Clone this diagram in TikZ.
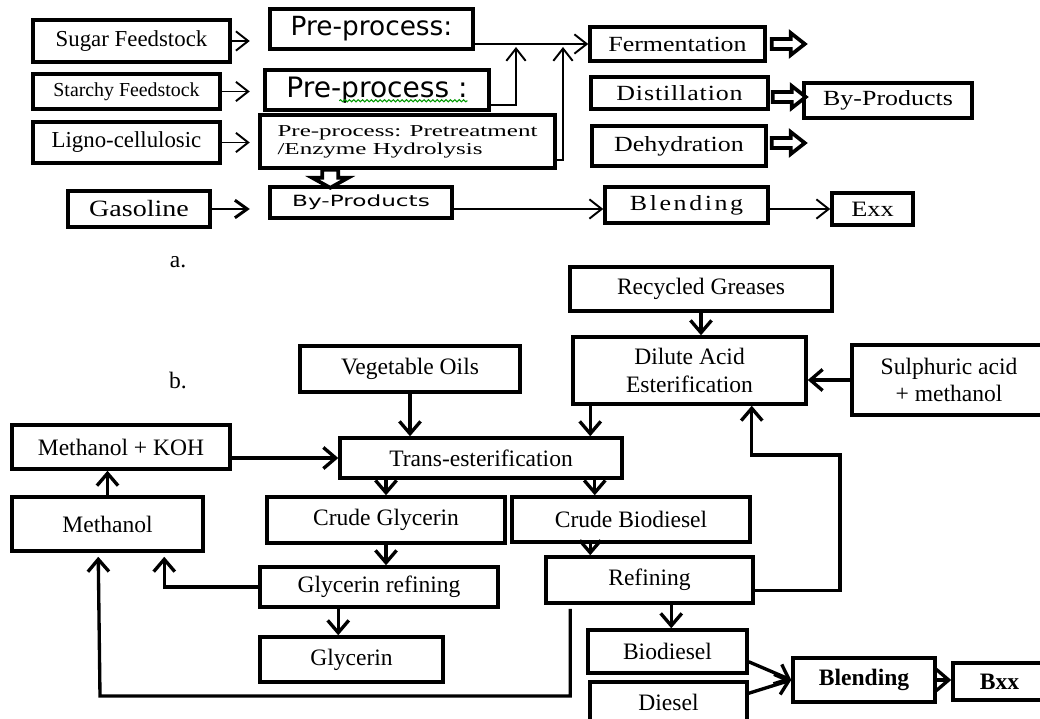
\documentclass[tikz,border=0pt]{standalone}
\usepackage{fontspec}
\setmainfont{Liberation Serif}
\newfontfamily\presans{DejaVu Sans}
\newfontfamily\widesans[FakeStretch=1.5]{DejaVu Sans}
\newfontfamily\wideserif[FakeStretch=1.2]{Liberation Serif}
\newfontfamily\vwideserif[FakeStretch=1.5]{Liberation Serif}
\newfontfamily\spacedserif[FakeStretch=1.2,LetterSpace=4]{Liberation Serif}
\newfontfamily\xspacedserif[FakeStretch=1.2,LetterSpace=12]{Liberation Serif}
\usetikzlibrary{arrows.meta, calc, decorations.pathmorphing}
\tikzset{
    box/.style={draw, line width=2pt, inner sep=1pt, align=center},
    boxb/.style={box, font=\fontsize{13.4}{15.5}\selectfont},
    wh/.style 2 args={minimum width=#1*0.02cm, minimum height=#2*0.02cm},
    arra/.style={line width=1.1pt, -{Straight Barb[length=7pt,width=11pt]}},
    arrg/.style={line width=1.7pt, -{Straight Barb[length=7pt,width=10pt]}},
    arrb/.style={line width=1.9pt, -{Straight Barb[length=7pt,width=12pt]}},
    spell/.style={draw=green!60!black, line width=0.6pt, decorate,
        decoration={snake, amplitude=0.6pt, segment length=2.5pt}},
    pics/fatarr/.style args={#1/#2/#3/#4}{code={
        \draw[line width=2.1pt, fill=white] (0,-#3) -- (#2,-#3) -- (#2,-#4) -- (#1,0)
            -- (#2,#4) -- (#2,#3) -- (0,#3) -- cycle;
    }}
}
\begin{document}
\begin{tikzpicture}[x=0.02cm, y=-0.02cm]
    \useasboundingbox (0,0) rectangle (1040,719);
    % a.
    \node[box, wh={197}{42}, font=\fontsize{13}{15}\selectfont] (sugar) at (131.5,41) {Sugar Feedstock};
    \node[box, wh={187}{35}, font=\fontsize{11.3}{13}\selectfont] (starch) at (126.5,91.5) {Starchy Feedstock};
    \node[box, wh={187}{41}, font=\fontsize{13}{15}\selectfont] (ligno) at (126.5,142.5) {Ligno-cellulosic};
    \node[box, wh={142}{36}, font=\wideserif\fontsize{13.3}{15}\selectfont] (gas) at (139,209) {Gasoline};
    \node[box, wh={203}{40}, font=\presans\fontsize{15}{17}\selectfont] (pp1) at (371.5,29) {Pre-process:};
    \node[box, wh={224}{40}, font=\presans\fontsize{16}{18}\selectfont] (pp2) at (377,90) {Pre-process :};
    \node[box, wh={295}{53}, align=left, font=\vwideserif\fontsize{9.5}{10.4}\selectfont] (pp3) at (407.5,141.5)
        {Pre-process: Pretreatment\\/Enzyme Hydrolysis};
    \node[box, wh={182}{31}, font=\widesans\fontsize{8.8}{10}\selectfont] (byp1) at (361,202.5) {By-Products};
    \node[box, wh={175}{34}, font=\wideserif\fontsize{12.3}{14}\selectfont] (ferm) at (677.5,44) {Fermentation};
    \node[box, wh={177}{32}, font=\spacedserif\fontsize{12.3}{14}\selectfont] (dist) at (679.5,93) {Distillation};
    \node[box, wh={174}{40}, font=\wideserif\fontsize{12.3}{14}\selectfont] (dehyd) at (679,146) {Dehydration};
    \node[box, wh={168}{35}, font=\wideserif\fontsize{12.3}{14}\selectfont] (byp2) at (888,100.5) {By-Products};
    \node[box, wh={163}{36}, font=\xspacedserif\fontsize{12.3}{14}\selectfont] (blend1) at (686.5,205) {Blending};
    \node[box, wh={81}{32}, font=\wideserif\fontsize{12.5}{14}\selectfont] (exx) at (872.5,209) {Exx};
    \coordinate (j1) at (516,47);
    \coordinate (j2) at (563,47);

    \draw[arra] (sugar.east) -- ++(18,0);
    \draw[arra] (starch.east) -- ++(28,0);
    \draw[arra] (ligno.east) -- ++(28,0);
    \draw[arrg] (gas.east) -- ++(38,0);
    \draw[arra] (pp1.east |- ferm.west) -- (ferm.west);
    \draw[arra] ($(pp2.south east)+(0,-7)$) -| (j1);
    \draw[arra] ($(pp3.south east)+(0,-10)$) -| (j2);
    \draw[arra] (byp1.east |- exx.west) -- (blend1.west |- exx.west);
    \draw[arra] (blend1.east |- exx.west) -- (exx.west);
    \pic[rotate=-90] at ($(pp3.south west)+(72,0)$) {fatarr=18/8/8/18};
    \pic at ($(ferm.east)+(5,0)$) {fatarr=33/19/5/11};
    \pic at ($(dist.east)+(3,4)$) {fatarr=33/19/5/11};
    \pic at ($(dehyd.east)+(4,-3)$) {fatarr=33/19/5/11};
    \draw[spell] ($(pp2.south west)+(76,-11)$) -- ($(pp2.south west)+(204,-11)$);

    \node[font=\fontsize{13.4}{15}\selectfont] (la) at (178,262) {a.};
    \node[font=\fontsize{13.4}{15}\selectfont] (lb) at (178,380) {b.};

    % b.
    \node[boxb, wh={262}{44}] (recyc) at (701,289) {Recycled Greases};
    \node[boxb, wh={233}{67}] (dilacid) at (689.5,370.5) {Dilute Acid\\Esterification};
    \node[boxb, wh={194}{70}] (sulph) at (949,380) {Sulphuric acid\\+ methanol};
    \node[boxb, wh={220}{46}] (vegoil) at (410,369) {Vegetable Oils};
    \node[boxb, wh={218}{44}] (koh) at (121,447) {Methanol + KOH};
    \node[boxb, wh={282}{40}] (trans) at (481,458) {Trans-esterification};
    \node[boxb, wh={191}{54}] (meth) at (107.5,524) {Methanol};
    \node[boxb, wh={238}{46}] (cgly) at (386,520) {Crude Glycerin};
    \node[boxb, wh={238}{45}] (cbio) at (631,519.5) {Crude Biodiesel};
    \node[boxb, wh={238}{40}] (grefn) at (379,587) {Glycerin refining};
    \node[boxb, wh={183}{45}] (glyc) at (351.5,659.5) {Glycerin};
    \node[boxb, wh={207}{46}] (refn) at (649.5,580) {Refining};
    \node[boxb, wh={159}{43}] (biod) at (667.5,651.5) {Biodiesel};
    \node[boxb, wh={157}{40}] (dies) at (668.5,702) {Diesel};
    \node[boxb, wh={142}{44}, font=\bfseries\fontsize{13.4}{15.5}\selectfont] (blend2) at (864,680) {Blending};
    \node[boxb, wh={93}{37}, font=\bfseries\fontsize{13.4}{15.5}\selectfont] (bxx) at (999.5,681.5) {Bxx};
    \coordinate (r1) at (840,455);
    \coordinate (l1) at (100,696);

    \draw[arrb] (recyc.south) -- (recyc.south |- dilacid.north);
    \draw[arrb] (sulph.west) -- (sulph.west -| dilacid.east);
    \draw[arrb] (vegoil.south) -- (vegoil.south |- trans.north);
    \draw[arrb] ($(dilacid.south west)+(19,0)$) coordinate (d1) -- (d1 |- trans.north);
    \draw[arrb] (koh.east |- trans.west) -- (trans.west);
    \draw[arrb] (meth.north) -- (meth.north |- koh.south);
    \draw[arrb] (cgly.north |- trans.south) -- (cgly.north);
    \draw[arrb] ($(trans.south east)+(-29,0)$) coordinate (t1) -- (t1 |- cbio.north);
    \draw[arrb] (cgly.south) -- (cgly.south |- grefn.north);
    \draw[arrb] (grefn.west) -| ($(meth.south west)+(154,4)$);
    \draw[arrb] ($(grefn.south west)+(80,0)$) coordinate (g1) -- (g1 |- glyc.north);
    \draw[arrb] ($(cbio.south west)+(80,0)$) coordinate (c1) -- (c1 |- refn.north);
    \draw[arrb] ($(refn.south west)+(127,0)$) coordinate (r0) -- (r0 |- biod.north);
    \draw[arrb] ($(refn.south east)+(0,-14)$) -| (r1) -| ($(dilacid.south east)+(-56,0)$);
    \draw[arrb] ($(refn.south west)+(26,4)$) |- (l1) -- ($(meth.south west)+(88,4)$);
    \draw[arrb] ($(biod.south east)+(0,-13)$) -- (blend2.west);
    \draw[arrb] ($(dies.north east)+(0,13)$) -- (blend2.west);
    \draw[arrb] (blend2.east) -- (bxx.west |- blend2.east);
\end{tikzpicture}
\end{document}
